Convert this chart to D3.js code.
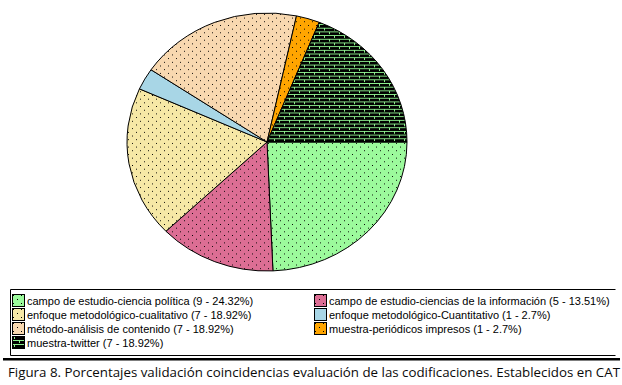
<!DOCTYPE html>
<html>
<head>
<meta charset="utf-8">
<script src="https://cdn.jsdelivr.net/npm/d3@7"></script>
<style>
  body { margin: 0; background: #fff; }
  svg { display: block; }
  .legend text { font-family: "Liberation Sans", Arial, sans-serif; font-size: 11px; fill: #000; }
  .caption { font-family: "Open Sans", "Liberation Sans", sans-serif; font-size: 13px; fill: #0a0a0a; }
</style>
</head>
<body>
<svg id="chart" viewBox="0 0 622 385" width="622" height="385"></svg>
<script>
// categories in slice order (clockwise from 3 o'clock)
const categories = [
    "campo de estudio-ciencia política",
    "campo de estudio-ciencias de la información",
    "enfoque metodológico-cualitativo",
    "enfoque metodológico-Cuantitativo",
    "método-análisis de contenido",
    "muestra-periódicos impresos",
    "muestra-twitter"
];
const counts = [9, 5, 7, 1, 7, 1, 7];
const percentLabels = ["24.32%", "13.51%", "18.92%", "2.7%", "18.92%", "2.7%", "18.92%"];
const fillColors = ["#9cfa9c", "#dc6e94", "#f6e8a6", "#a8d6e6", "#f8d8b0", "#ffa500", "#000000"];
const patternKind = ["dots", "dots", "dots", "none", "dots", "dots", "brick"];
const legendSep = ["", "", "", "", "", " ", ""];

const svg = d3.select("#chart");
const width = parseInt(svg.attr("viewBox").split(' ')[2]);

const cx = 267, cy = 142, rx = 140, ry = 129;

const defs = svg.append("defs");

// dotted fills, brick for twitter
fillColors.forEach((c, i) => {
    const pw = patternKind[i] === "brick" ? 10 : 8;
    const p = defs.append("pattern")
        .attr("id", "pat" + i)
        .attr("patternUnits", "userSpaceOnUse")
        .attr("width", pw)
        .attr("height", 8);
    p.append("rect").attr("width", pw).attr("height", 8).attr("fill", c);
    if (patternKind[i] === "dots") {
        p.append("rect").attr("x", 1).attr("y", 1).attr("width", 1).attr("height", 1).attr("fill", "#000");
        p.append("rect").attr("x", 5).attr("y", 5).attr("width", 1).attr("height", 1).attr("fill", "#000");
    } else if (patternKind[i] === "brick") {
        const g = "#8ef08e";
        p.append("rect").attr("x", 0).attr("y", 0).attr("width", pw).attr("height", 1).attr("fill", g);
        p.append("rect").attr("x", 0).attr("y", 4).attr("width", pw).attr("height", 1).attr("fill", g);
        p.append("rect").attr("x", 2).attr("y", 1).attr("width", 1).attr("height", 2).attr("fill", g);
        p.append("rect").attr("x", 7).attr("y", 5).attr("width", 1).attr("height", 2).attr("fill", g);
    }
});

const pie = d3.pie()
    .sort(null)
    .startAngle(Math.PI / 2)
    .endAngle(Math.PI / 2 + 2 * Math.PI)
    .value(d => d);

const arc = d3.arc().innerRadius(0).outerRadius(rx);

const pieGroup = svg.append("g")
    .attr("transform", `translate(${cx},${cy}) scale(1,${ry / rx})`);

pieGroup.selectAll("path")
    .data(pie(counts))
    .enter()
    .append("path")
    .attr("d", arc)
    .attr("fill", (d, i) => `url(#pat${i})`)
    .attr("stroke", "#000")
    .attr("stroke-width", 1)
    .attr("vector-effect", "non-scaling-stroke");

// legend box
const legend = svg.append("g").attr("class", "legend");
const box = { x: 10.5, y: 289.5, w: 605, h: 66 };
legend.append("path")
    .attr("d", `M${box.x + box.w},${box.y} H${box.x} V${box.y + box.h} H${box.x + box.w}`)
    .attr("fill", "none")
    .attr("stroke", "#000")
    .attr("stroke-width", 1);

const colX = [12, 314];
const rowY = d3.scaleLinear().domain([0, 3]).range([294, 336]);

const items = legend.selectAll(".item")
    .data(categories)
    .enter()
    .append("g")
    .attr("class", "item")
    .attr("transform", (d, i) => `translate(${colX[i % 2]},${rowY(Math.floor(i / 2))})`);

items.append("rect")
    .attr("x", 0.5).attr("y", 0.5)
    .attr("width", 12).attr("height", 12)
    .attr("fill", (d, i) => `url(#pat${i})`)
    .attr("stroke", "#000");

items.append("text")
    .attr("x", 15)
    .attr("y", 10.5)
    .text((d, i) => `${d}${legendSep[i]} (${counts[i]} - ${percentLabels[i]})`);

// separator under legend
svg.append("rect")
    .attr("x", 3).attr("y", 358)
    .attr("width", width - 5).attr("height", 2.5)
    .attr("fill", "#000");

svg.append("text")
    .attr("class", "caption")
    .attr("x", 8)
    .attr("y", 377)
    .attr("textLength", 612)
    .attr("lengthAdjust", "spacingAndGlyphs")
    .text("Figura 8. Porcentajes validación coincidencias evaluación de las codificaciones. Establecidos en CAT");
</script>
</body>
</html>
